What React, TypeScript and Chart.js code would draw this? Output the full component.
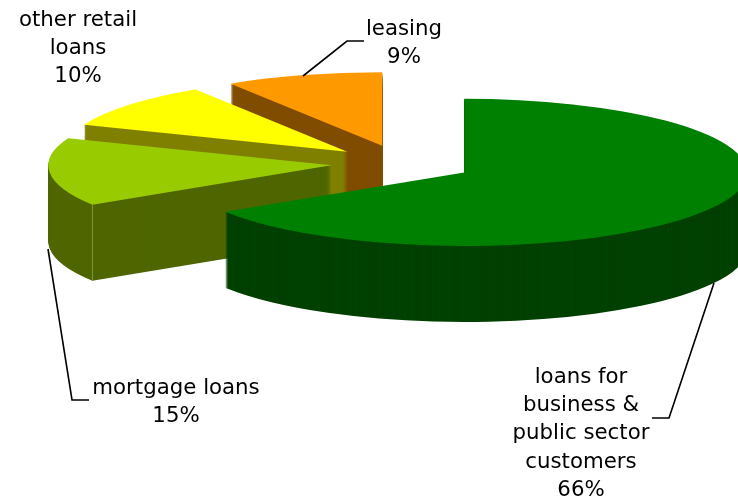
import React, { useEffect, useRef } from "react";
import { Chart, registerables } from "chart.js";

Chart.register(...registerables);

const categories = ["loans for business & public sector customers", "mortgage loans", "other retail loans", "leasing"];
const values = [66, 15, 10, 9];
const topColors = ["#008000", "#99cc00", "#ffff00", "#ff9900"];
const sideColors = ["#004000", "#4f6600", "#808000", "#804d00"];
const labelLines = [
  ["loans for", "business &", "public sector", "customers"],
  ["mortgage loans"],
  ["other retail", "loans"],
  ["leasing"],
];
const labelAnchors = [
  { x: 581, y: 383 },
  { x: 176, y: 394 },
  { x: 78, y: 26 },
  { x: 404, y: 35 },
];
const leaders = [
  [[714, 283], [669, 418], [652, 418]],
  [[48, 249], [72, 400], [89, 400]],
  [],
  [[303, 76], [347, 41], [364, 41]],
];

const SQUASH = 0.26;
const DEPTH = 76;
const EXPLODE = 71;
const LINE_HEIGHT = 28.2;

const pie3d = {
  id: "pie3d",
  beforeDatasetDraw(chart: any) {
    const ctx = chart.ctx;
    const arcs = chart.getDatasetMeta(0).data;
    const cy = (chart.chartArea.top + chart.chartArea.bottom) / 2;
    for (let i = arcs.length - 1; i >= 0; i--) {
      const arc = arcs[i];
      const saved = arc.options;
      const mid = (arc.startAngle + arc.endAngle) / 2;
      const dx = Math.cos(mid) * EXPLODE;
      const dy = Math.sin(mid) * EXPLODE;
      const paint = (screenDrop: number) => {
        ctx.save();
        ctx.translate(dx, cy + screenDrop);
        ctx.scale(1, SQUASH);
        ctx.translate(0, dy - cy);
        arc.draw(ctx);
        ctx.restore();
      };
      arc.options = { offset: 0, spacing: 0, borderWidth: 0, borderAlign: "center", circular: true, borderRadius: 0, backgroundColor: sideColors[i], borderColor: sideColors[i] };
      for (let k = DEPTH; k >= 1; k--) paint(k);
      arc.options = { ...arc.options, backgroundColor: topColors[i], borderColor: topColors[i] };
      paint(0);
      arc.options = saved;

      if (i === 1) {
        // pale seam where the rim of this slice meets its cut face
        const px = arc.x + dx + Math.cos(arc.startAngle) * arc.outerRadius;
        const py = cy + (dy + Math.sin(arc.startAngle) * arc.outerRadius) * SQUASH;
        ctx.save();
        ctx.strokeStyle = "#7f9440";
        ctx.lineWidth = 1;
        ctx.beginPath();
        ctx.moveTo(Math.round(px) + 0.5, py);
        ctx.lineTo(Math.round(px) + 0.5, py + DEPTH);
        ctx.stroke();
        ctx.restore();
      }
    }
    return false;
  },
  afterDraw(chart: any) {
    const ctx = chart.ctx;
    ctx.save();
    ctx.strokeStyle = "#000000";
    ctx.lineWidth = 1.6;
    leaders.forEach((pts) => {
      if (!pts.length) return;
      ctx.beginPath();
      pts.forEach(([x, y], j) => (j ? ctx.lineTo(x, y) : ctx.moveTo(x, y)));
      ctx.stroke();
    });
    ctx.fillStyle = "#000000";
    ctx.font = '21.3px "DejaVu Sans"';
    ctx.textAlign = "center";
    ctx.textBaseline = "alphabetic";
    labelLines.forEach((lines, i) => {
      const all = [...lines, values[i] + "%"];
      all.forEach((t, j) => ctx.fillText(t, labelAnchors[i].x, labelAnchors[i].y + j * LINE_HEIGHT));
    });
    ctx.restore();
  },
};

export default function App() {
  const ref = useRef<HTMLCanvasElement>(null);
  useEffect(() => {
    const chart = new Chart(ref.current!, {
      type: "pie",
      data: {
        labels: categories,
        datasets: [
          {
            data: values,
            backgroundColor: topColors,
            borderWidth: 0,
            radius: 283,
            clip: false,
          } as any,
        ],
      },
      options: {
        animation: false,
        responsive: false,
        layout: { padding: { left: 66, bottom: 172 } },
        plugins: { legend: { display: false }, tooltip: { enabled: false }, title: { display: false } },
      } as any,
      plugins: [pie3d as any],
    });
    return () => chart.destroy();
  }, []);
  return (
    <canvas
      ref={ref}
      width={738}
      height={499}
      style={{ position: "absolute", left: 0, top: 0, display: "block", width: 738, height: 499 }}
    />
  );
}
